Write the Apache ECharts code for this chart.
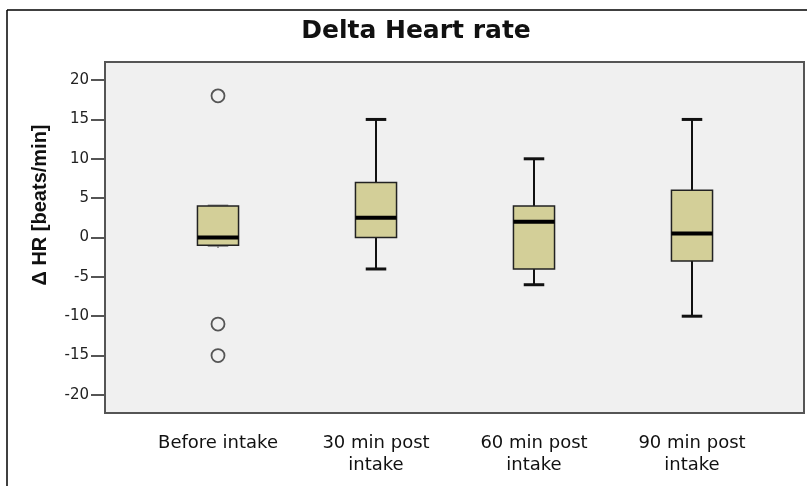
<!DOCTYPE html>
<html>
<head>
<meta charset="utf-8">
<script src="https://cdn.jsdelivr.net/npm/echarts@6/dist/echarts.min.js"></script>
<style>
html, body { margin: 0; padding: 0; background: #fff; }
#main { width: 807px; height: 486px; }
</style>
</head>
<body>
<div id="main"></div>
<script>
var categories = ['Before intake', '30 min post\nintake', '60 min post\nintake', '90 min post\nintake'];
var whiskerLow = [-1, -4, -6, -10];
var q1 = [-1, 0, -4, -3];
var median = [0, 2.5, 2, 0.5];
var q3 = [4, 7, 4, 6];
var whiskerHigh = [4, 15, 10, 15];
var outliers = [[0, 18], [0, -11], [0, -15]];
var yTicks = [-20, -15, -10, -5, 0, 5, 10, 15, 20];

var dom = document.getElementById('main');
var myChart = echarts.init(dom);

var boxData = [];
for (var i = 0; i < categories.length; i++) {
    boxData.push([i, whiskerLow[i], q1[i], median[i], q3[i], whiskerHigh[i]]);
}

function renderBox(params, api) {
    var idx = api.value(0);
    var band = api.size([1, 0])[0];
    var half = band * 0.13;
    var cap = half / 2;
    var lo = api.coord([idx, api.value(1)]);
    var b1 = api.coord([idx, api.value(2)]);
    var md = api.coord([idx, api.value(3)]);
    var b3 = api.coord([idx, api.value(4)]);
    var hi = api.coord([idx, api.value(5)]);
    var x = lo[0];
    var line = { stroke: '#111', lineWidth: 2 };
    var capStyle = { stroke: api.value(5) === api.value(4) ? '#888' : '#111', lineWidth: 3 };
    var capLow = { stroke: api.value(1) === api.value(2) ? '#888' : '#111', lineWidth: 3 };
    return {
        type: 'group',
        children: [
            { type: 'line', shape: { x1: x, y1: hi[1], x2: x, y2: b3[1] }, style: line },
            { type: 'line', shape: { x1: x, y1: b1[1], x2: x, y2: lo[1] }, style: line },
            { type: 'line', shape: { x1: x - cap, y1: hi[1], x2: x + cap, y2: hi[1] }, style: capStyle },
            { type: 'line', shape: { x1: x - cap, y1: lo[1], x2: x + cap, y2: lo[1] }, style: capLow },
            { type: 'rect', shape: { x: x - half, y: b3[1], width: half * 2, height: b1[1] - b3[1] },
              style: { fill: '#d3cf98', stroke: '#222', lineWidth: 1.5 } },
            { type: 'line', shape: { x1: x - half, y1: md[1], x2: x + half, y2: md[1] }, style: { stroke: '#000', lineWidth: 4 } }
        ]
    };
}

option = {
    animation: false,
    backgroundColor: '#fff',
    title: {
        text: 'Delta Heart rate',
        left: 411,
        top: 14,
        textAlign: 'center',
        textStyle: { fontFamily: 'DejaVu Sans', fontWeight: 'bold', fontSize: 25, color: '#111' }
    },
    graphic: [
        { type: 'line', shape: { x1: 7, y1: 10, x2: 807, y2: 10 }, style: { stroke: '#000', lineWidth: 1.5 } },
        { type: 'line', shape: { x1: 7, y1: 10, x2: 7, y2: 486 }, style: { stroke: '#000', lineWidth: 1.5 } },
        {
            type: 'text', x: 40, y: 205, rotation: Math.PI / 2,
            style: { text: '\u0394 HR [beats/min]', font: 'bold 20px "Liberation Sans", Arial', fill: '#111',
                     textAlign: 'center', textVerticalAlign: 'middle' }
        }
    ],
    grid: [
        { left: 105, right: 3, top: 62, bottom: 73, show: true, backgroundColor: '#f0f0f0',
          borderColor: '#555', borderWidth: 2 },
        { left: 139, right: 36, top: 62, bottom: 73 }
    ],
    xAxis: [
        { gridIndex: 0, type: 'value', show: false, min: 0, max: 1 },
        {
            gridIndex: 1, type: 'category', data: categories,
            axisLine: { show: false },
            axisTick: { show: true, alignWithLabel: true, length: 10, lineStyle: { color: '#444', width: 2 } },
            axisLabel: { margin: 19, fontFamily: 'DejaVu Sans', fontSize: 18, color: '#111', lineHeight: 22 }
        }
    ],
    yAxis: [
        {
            gridIndex: 0, type: 'value', min: -22.3, max: 22.3,
            splitLine: { show: false },
            axisLine: { show: true, lineStyle: { color: '#555', width: 2 } },
            axisTick: { show: true, length: 14, customValues: yTicks, lineStyle: { color: '#555', width: 2 } },
            axisLabel: { customValues: yTicks, margin: 16, fontFamily: 'DejaVu Sans', fontSize: 15, color: '#222' }
        },
        { gridIndex: 1, type: 'value', min: -22.3, max: 22.3, show: false }
    ],
    series: [
        {
            type: 'custom', xAxisIndex: 1, yAxisIndex: 1,
            renderItem: renderBox,
            encode: { x: 0, y: [1, 2, 3, 4, 5] },
            data: boxData
        },
        {
            type: 'scatter', xAxisIndex: 1, yAxisIndex: 1,
            symbol: 'circle', symbolSize: 13,
            itemStyle: { color: '#f0f0f0', borderColor: '#555', borderWidth: 1.8, opacity: 1 },
            data: outliers
        }
    ]
};
myChart.setOption(option, true);
</script>
</body>
</html>
